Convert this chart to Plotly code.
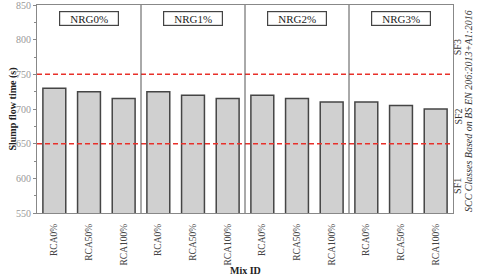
import plotly.graph_objects as go

groups = ["NRG0%", "NRG1%", "NRG2%", "NRG3%"]
mixes = ["RCA0%", "RCA50%", "RCA100%"]
values = [730, 725, 715,
          725, 720, 715,
          720, 715, 710,
          710, 705, 700]
limits = [650, 750]
class_labels = ["SF3", "SF2", "SF1"]
class_y = [800, 700, 600]
tick_labels = [m for g in groups for m in mixes]
xs = list(range(len(values)))

FONT = "Liberation Serif, Times New Roman, serif"

fig = go.Figure()
fig.add_trace(go.Bar(
    x=xs, y=values, width=0.66,
    marker=dict(color="#d0d0d0", line=dict(color="#454545", width=1.5)),
    showlegend=False, hoverinfo="y",
))

shapes = []
for lv in limits:
    shapes.append(dict(type="line", xref="paper", yref="y", x0=0, x1=1, y0=lv, y1=lv,
                       line=dict(color="#e8302a", width=1.5, dash="5px,3px")))
for i in range(1, len(groups)):
    xd = i * len(mixes) - 0.5
    shapes.append(dict(type="line", xref="x", yref="paper", x0=xd, x1=xd, y0=0, y1=1,
                       line=dict(color="#555555", width=1)))

annotations = []
for i, g in enumerate(groups):
    annotations.append(dict(
        x=i * len(mixes) + 1, y=831, xref="x", yref="y", text=g, showarrow=False,
        font=dict(family=FONT, size=11, color="#222222"),
        bordercolor="#444444", borderwidth=1.2, borderpad=1, bgcolor="white",
        width=56, height=11,
    ))
for lab, yv in zip(class_labels, class_y):
    annotations.append(dict(
        x=1.029, y=yv, xref="paper", yref="y", text=lab, showarrow=False, yshift=-8,
        textangle=-90, font=dict(family=FONT, size=10, color="#333333"),
    ))
annotations.append(dict(
    x=1.054, y=0.49, xref="paper", yref="paper",
    text="<i>SCC Classes Based on BS EN 206:2013+A1:2016</i>", showarrow=False,
    textangle=-90, font=dict(family=FONT, size=10, color="#333333"),
))
annotations.append(dict(
    x=0.5, y=-0.24, xref="paper", yref="paper", yanchor="top",
    text="<b>Mix ID</b>", showarrow=False,
    font=dict(family=FONT, size=10, color="#222222"),
))
annotations.append(dict(
    x=-0.078, y=0.5, xref="paper", yref="paper",
    text="<b>Slump flow time (s)</b>", showarrow=False, textangle=-90,
    font=dict(family=FONT, size=10, color="#222222"),
))

fig.update_layout(
    width=480, height=276,
    margin=dict(l=37, r=27, t=5, b=63),
    paper_bgcolor="white", plot_bgcolor="white",
    shapes=shapes, annotations=annotations,
    font=dict(family=FONT),
    xaxis=dict(
        tickmode="array", tickvals=xs, ticktext=tick_labels, tickangle=-90,
        range=[-0.5, len(values) - 0.5], showgrid=False, zeroline=False,
        showline=True, linecolor="#888888", linewidth=1, mirror=True, ticks="",
        ticklabelstandoff=6, automargin=False, ticklabeloverflow="allow",
        tickfont=dict(family=FONT, size=9.5, color="#444444"),
    ),
    yaxis=dict(
        range=[550, 850], tickmode="array", tickvals=[550, 600, 650, 700, 750, 800, 850],
        showgrid=False, zeroline=False, showline=True, linecolor="#888888", linewidth=1,
        mirror=True, ticks="outside", ticklen=3, tickcolor="#888888", automargin=False,
        ticklabeloverflow="allow",
        minor=dict(dtick=25, ticks="outside", ticklen=2, tickcolor="#888888"),
        tickfont=dict(family=FONT, size=10, color="#999999"),
    ),
)

fig.write_html("out.html", config={"displayModeBar": False},
               post_script="document.body.style.margin='0';")
